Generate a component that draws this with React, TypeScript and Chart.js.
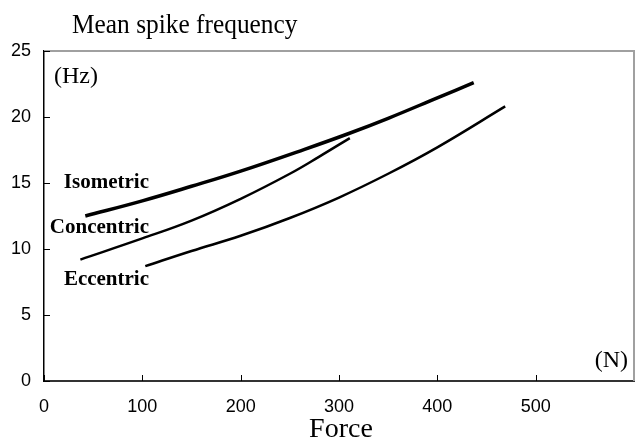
import React, { useEffect, useRef } from "react";
import { Chart, registerables } from "chart.js";

Chart.register(...registerables);

const titleText = "Mean spike frequency";
const xTitle = "Force";
const yUnit = "(Hz)";
const xUnit = "(N)";

const seriesNames = ["Isometric", "Concentric", "Eccentric"];

const isometricForce = [42, 100, 150, 200, 265, 310, 350, 400, 437];
const isometricFreq = [12.5, 13.65, 14.75, 15.9, 17.55, 18.75, 19.9, 21.45, 22.6];

const concentricForce = [37, 100, 150, 200, 250, 280, 311];
const concentricFreq = [9.2, 10.8, 12.15, 13.8, 15.7, 17.0, 18.4];

const eccentricForce = [103, 150, 200, 250, 300, 350, 400, 469];
const eccentricFreq = [8.7, 9.85, 11.0, 12.35, 13.9, 15.7, 17.7, 20.8];

const xTickValues = [0, 100, 200, 300, 400, 500];
const yTickValues = [0, 5, 10, 15, 20, 25];

const toPoints = (xs: number[], ys: number[]) => xs.map((x, i) => ({ x, y: ys[i] }));

const drawStretched = (ctx: any, text: string, x: number, y: number, sx: number) => {
  ctx.save();
  ctx.translate(x, y);
  ctx.scale(sx, 1);
  ctx.fillText(text, 0, 0);
  ctx.restore();
};

const overlayPlugin = {
  id: "overlay",
  afterDraw(chart: any) {
    const { ctx, chartArea, scales } = chart;
    const { left, right, top, bottom } = chartArea;
    ctx.save();
    ctx.strokeStyle = "#a0a0a0";
    ctx.lineWidth = 2;
    ctx.beginPath();
    ctx.moveTo(left, top);
    ctx.lineTo(right, top);
    ctx.lineTo(right, bottom);
    ctx.stroke();
    ctx.strokeStyle = "#000";
    ctx.lineWidth = 1;
    yTickValues.forEach((v) => {
      const y = Math.round(scales.y.getPixelForValue(v)) + 0.5;
      ctx.beginPath();
      ctx.moveTo(left, y);
      ctx.lineTo(left + 6, y);
      ctx.stroke();
    });
    xTickValues.forEach((v) => {
      const x = Math.round(scales.x.getPixelForValue(v)) + 0.5;
      ctx.beginPath();
      ctx.moveTo(x, bottom);
      ctx.lineTo(x, bottom - 6);
      ctx.stroke();
    });
    ctx.fillStyle = "#000";
    ctx.textBaseline = "alphabetic";
    ctx.textAlign = "left";
    ctx.font = "27px 'Liberation Serif'";
    drawStretched(ctx, titleText, 72, 33, 0.94);
    ctx.textAlign = "center";
    ctx.font = "28px 'Liberation Serif'";
    ctx.fillText(xTitle, 341, 437);
    ctx.textAlign = "left";
    ctx.font = "24px 'Liberation Serif'";
    ctx.fillText(yUnit, 54, 83);
    ctx.textAlign = "right";
    ctx.fillText(xUnit, 628, 367);
    ctx.font = "bold 21px 'Liberation Serif'";
    const baselines = [188, 233, 285];
    seriesNames.forEach((n, i) => ctx.fillText(n, 149, baselines[i]));
    ctx.restore();
  },
};

export default function App() {
  const ref = useRef<HTMLCanvasElement>(null);
  useEffect(() => {
    document.body.style.margin = "0";
    const mk = (label: string, xs: number[], ys: number[], w: number) => ({
      label,
      data: toPoints(xs, ys),
      showLine: true,
      borderColor: "#000",
      borderWidth: w,
      pointRadius: 0,
      tension: 0.4,
      fill: false,
    });
    const chart = new Chart(ref.current!, {
      type: "scatter",
      data: {
        datasets: [
          mk(seriesNames[0], isometricForce, isometricFreq, 3.5),
          mk(seriesNames[1], concentricForce, concentricFreq, 2.5),
          mk(seriesNames[2], eccentricForce, eccentricFreq, 2.5),
        ],
      },
      options: {
        responsive: false,
        animation: false,
        layout: { padding: { top: 51, right: 9, left: 0, bottom: 0 } },
        plugins: { legend: { display: false }, tooltip: { enabled: false }, title: { display: false } },
        scales: {
          x: {
            type: "linear",
            min: 0,
            max: 600,
            afterFit: (s: any) => { s.height = 60; },
            afterBuildTicks: (s: any) => { s.ticks = xTickValues.map((v) => ({ value: v })); },
            ticks: {
              color: "#000",
              font: { family: "'Liberation Sans', Arial", size: 18 },
              padding: 15,
              maxRotation: 0,
            },
            grid: { display: false, drawTicks: false },
            border: { display: true, color: "#333", width: 2 },
          },
          y: {
            min: 0,
            max: 25,
            afterFit: (s: any) => { s.width = 44; },
            afterBuildTicks: (s: any) => { s.ticks = yTickValues.map((v) => ({ value: v })); },
            ticks: {
              color: "#000",
              font: { family: "'Liberation Sans', Arial", size: 18 },
              padding: 13,
            },
            grid: { display: false, drawTicks: false },
            border: { display: true, color: "#000", width: 1.5 },
          },
        },
      },
      plugins: [overlayPlugin],
    });
    return () => chart.destroy();
  }, []);
  return (
    <div style={{ position: "absolute", left: 0, top: 0, width: 643, height: 441, background: "#fff" }}>
      <canvas ref={ref} width={643} height={441} />
    </div>
  );
}
